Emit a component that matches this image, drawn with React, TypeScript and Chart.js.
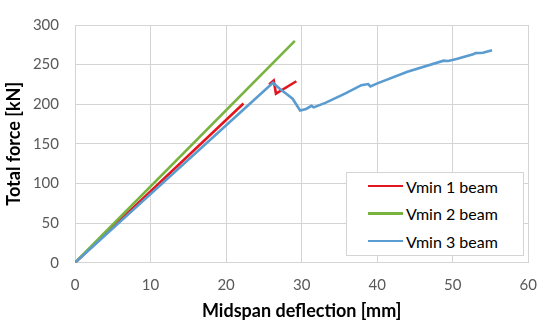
import React, { useEffect, useRef } from "react";
import { Chart, registerables } from "chart.js";

Chart.register(...registerables);

const seriesNames = ["Vmin 1 beam", "Vmin 2 beam", "Vmin 3 beam"];
const seriesColors = ["#E3161E", "#79B33F", "#5A9BD0"];

const v1X = [0, 22.3, null, 25.7, 26.3, 26.6, 29.3];
const v1Y = [0, 201, null, 225, 230, 213.5, 229];

const v2X = [0, 29.1];
const v2Y = [0, 280];

const v3X = [0, 26.2, 27.1, 28.0, 28.8, 29.8, 30.6, 31.3, 31.6, 33.2, 35.8, 37.9, 38.8, 39.1, 40.1, 44.0, 48.8, 49.4, 50.5, 52.7, 53.0, 54.0, 55.2];
const v3Y = [0, 227, 219.5, 213, 207, 192, 194, 198, 196, 202, 213.6, 224, 225.5, 222.5, 226.6, 241, 255, 254.5, 257, 263, 264.5, 265, 268];

const xTicks = [0, 10, 20, 30, 40, 50, 60];
const yTicks = [0, 50, 100, 150, 200, 250, 300];

const xTitle = "Midspan deflection [mm]";
const yTitle = "Total force [kN]";

function pts(xs: (number | null)[], ys: (number | null)[]) {
  return xs.map((x, i) => (x === null ? { x: NaN, y: null } : { x, y: ys[i] }));
}

export default function App() {
  const ref = useRef<HTMLCanvasElement | null>(null);
  useEffect(() => {
    if (!ref.current) return;
    const font = "Lato, 'Open Sans', sans-serif";
    const chart = new Chart(ref.current, {
      type: "line",
      data: {
        datasets: [
          { label: seriesNames[0], data: pts(v1X, v1Y) as any, borderColor: seriesColors[0], backgroundColor: seriesColors[0], borderWidth: 2.6, pointRadius: 0, tension: 0, spanGaps: false, order: 2 },
          { label: seriesNames[1], data: pts(v2X, v2Y) as any, borderColor: seriesColors[1], backgroundColor: seriesColors[1], borderWidth: 2.6, pointRadius: 0, tension: 0, order: 1 },
          { label: seriesNames[2], data: pts(v3X, v3Y) as any, borderColor: seriesColors[2], backgroundColor: seriesColors[2], borderWidth: 2.6, pointRadius: 0, tension: 0, order: 0 },
        ],
      },
      options: {
        animation: false,
        responsive: false,
        events: [],
        layout: { padding: { left: 0, right: 13, top: 11, bottom: 0 } },
        plugins: { legend: { display: false }, tooltip: { enabled: false } },
        scales: {
          x: {
            type: "linear",
            min: 0,
            max: 60,
            afterBuildTicks: (s: any) => { s.ticks = xTicks.map((v) => ({ value: v })); },
            afterFit: (s: any) => { s.height = 63.3; },
            grid: { color: "#d4d4d4", lineWidth: 1, drawTicks: false },
            border: { color: "#d4d4d4" },
            ticks: { padding: 13, color: "#595959", font: { family: font, size: 15 } },
            title: { display: true, text: xTitle, color: "#000", font: { family: font, size: 18, weight: "bold" }, padding: { top: 0, bottom: 4 } },
          },
          y: {
            type: "linear",
            min: 0,
            max: 300,
            afterBuildTicks: (s: any) => { s.ticks = yTicks.map((v) => ({ value: v })); },
            afterFit: (s: any) => { s.width = 75; },
            grid: { color: "#d4d4d4", lineWidth: 1, drawTicks: false },
            border: { color: "#d4d4d4" },
            ticks: { padding: 16, color: "#595959", font: { family: font, size: 15 } },
            title: { display: true, text: yTitle, color: "#000", font: { family: font, size: 18, weight: "bold" }, padding: { top: 3, bottom: 0 } },
          },
        },
      } as any,
    });
    return () => chart.destroy();
  }, []);

  const rowTops = [186, 213.5, 241];
  return (
    <div style={{ position: "fixed", left: 0, top: 0, width: 550, height: 326, background: "#fff" }}>
      <canvas ref={ref} width={550} height={326} style={{ display: "block" }} />
      <div
        style={{
          position: "absolute",
          left: 346,
          top: 172,
          width: 178,
          height: 84,
          border: "1px solid #d4d4d4",
          background: "#fff",
          boxSizing: "border-box",
        }}
      />
      {seriesNames.map((n, i) => (
        <div key={n} style={{ position: "absolute", left: 368, top: rowTops[i] - 10, height: 20, display: "flex", alignItems: "center", fontFamily: "Lato, 'Open Sans', sans-serif", fontSize: 16, color: "#000", whiteSpace: "nowrap" }}>
          <span style={{ display: "inline-block", width: 35, height: 2.6, background: seriesColors[i], marginRight: 3 }} />
          <span>{n}</span>
        </div>
      ))}
    </div>
  );
}
